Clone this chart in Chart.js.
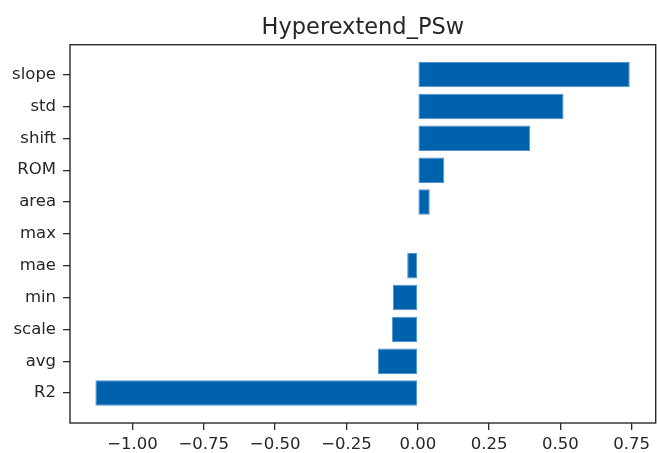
<!DOCTYPE html>
<html>
<head>
<meta charset="utf-8">
<script src="https://cdn.jsdelivr.net/npm/chart.js@4/dist/chart.umd.min.js"></script>
<style>
  html, body { margin: 0; padding: 0; background: #fff; }
  #wrap { width: 657px; height: 453px; }
</style>
</head>
<body>
<div id="wrap"><canvas id="c" width="657" height="453"></canvas></div>
<script>
// Feature names, listed bottom to top
const categories = ['R2', 'avg', 'scale', 'min', 'mae', 'max', 'area', 'ROM', 'shift', 'std', 'slope'];
// Coefficient for each feature
const values = [-1.13, -0.14, -0.091, -0.087, -0.037, 0, 0.042, 0.093, 0.394, 0.511, 0.743];
// Value-axis tick positions
const xTicks = [-1.00, -0.75, -0.50, -0.25, 0.00, 0.25, 0.50, 0.75];
const titleText = 'Hyperextend_PSw';

const FONT = 'DejaVu Sans';
const INK = '#262626';

// Frame around the plotting area, plus the title centred over it
const frame = {
  id: 'frame',
  afterDatasetsDraw(chart) {
    const a = chart.chartArea, ctx = chart.ctx;
    ctx.save();
    ctx.strokeStyle = '#2a2a2a';
    ctx.lineWidth = 1.4;
    ctx.strokeRect(a.left, a.top, a.right - a.left, a.bottom - a.top);
    ctx.fillStyle = INK;
    ctx.font = '22.5px "' + FONT + '"';
    ctx.textAlign = 'center';
    ctx.textBaseline = 'alphabetic';
    ctx.fillText(titleText, (a.left + a.right) / 2, 33.5);
    ctx.restore();
  }
};

new Chart(document.getElementById('c'), {
  type: 'bar',
  data: {
    datasets: [{
      data: categories.map((c, i) => ({ x: values[i], y: i })),
      backgroundColor: '#0061ad',
      borderColor: '#4f93d2',
      borderWidth: ctx => (ctx.raw && ctx.raw.x !== 0 ? 1 : 0),
      borderSkipped: false,
      categoryPercentage: 1.0,
      barPercentage: 0.8
    }]
  },
  options: {
    indexAxis: 'y',
    responsive: false,
    animation: false,
    layout: { padding: { left: 0, right: 1.3, top: 44.7, bottom: 0 } },
    plugins: {
      legend: { display: false },
      tooltip: { enabled: false },
      title: { display: false }
    },
    scales: {
      x: {
        type: 'linear',
        min: -1.219,
        max: 0.834,
        afterBuildTicks: s => { s.ticks = xTicks.map(v => ({ value: v })); },
        afterFit: s => { s.height = 30; },
        border: { display: false },
        grid: { drawOnChartArea: false, drawTicks: true, tickLength: 7, color: '#2a2a2a', lineWidth: 1.3 },
        ticks: {
          color: INK,
          font: { family: FONT, size: 16.5 },
          padding: 5,
          maxRotation: 0,
          callback: v => (v < 0 ? '\u2212' + Math.abs(v).toFixed(2) : v.toFixed(2))
        }
      },
      y: {
        type: 'linear',
        offset: false,
        min: -0.94,
        max: 10.94,
        afterBuildTicks: s => { s.ticks = categories.map((c, i) => ({ value: i })); },
        afterFit: s => { s.width = 70; },
        border: { display: false },
        grid: { offset: false, drawOnChartArea: false, drawTicks: true, tickLength: 7, color: '#2a2a2a', lineWidth: 1.3 },
        ticks: {
          color: INK,
          font: { family: FONT, size: 16.5 },
          padding: 7,
          callback: v => categories[v]
        }
      }
    }
  },
  plugins: [frame]
});
</script>
</body>
</html>
